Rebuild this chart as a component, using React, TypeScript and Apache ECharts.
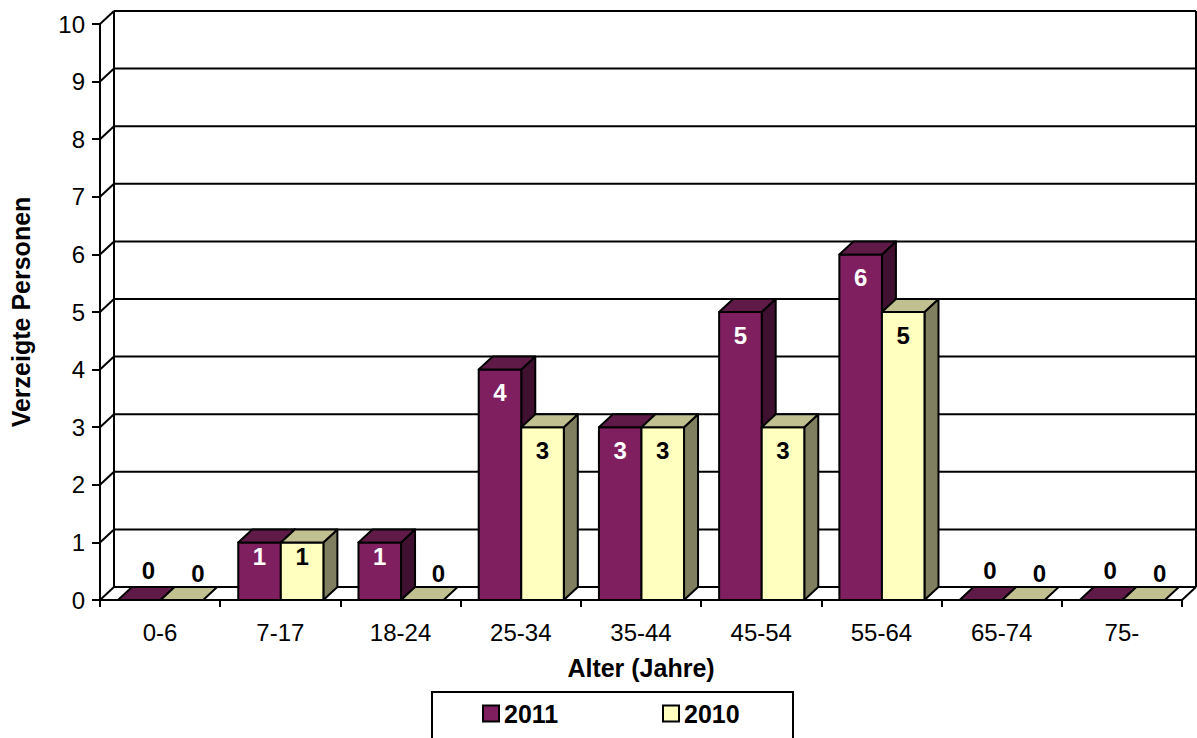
import React, { useEffect, useRef } from "react";
import * as echarts from "echarts";

const categories = ["0-6", "7-17", "18-24", "25-34", "35-44", "45-54", "55-64", "65-74", "75-"];
const values2011 = [0, 1, 1, 4, 3, 5, 6, 0, 0];
const values2010 = [0, 1, 0, 3, 3, 3, 5, 0, 0];
const yTicks = [0, 1, 2, 3, 4, 5, 6, 7, 8, 9, 10];

const FONT = "'Liberation Sans', Arial, sans-serif";
const DX = 14;
const DY = 13;

const palette = [
  { front: "#801f60", top: "#5f1a48", side: "#401030", label: "#ffffff", zeroShift: 9 },
  { front: "#ffffc0", top: "#c0c090", side: "#808060", label: "#000000", zeroShift: 16 },
];

function makeBarRender(s: number) {
  return (params: any, api: any) => {
    const i = api.value(0);
    const v = api.value(1);
    const top = api.coord([i, v]);
    const base = api.coord([i, 0]);
    const catW = api.size([1, 0])[0];
    const barW = catW * 0.354;
    const x = top[0] - catW / 2 + catW * 0.15 + s * barW;
    const yT = top[1];
    const y0 = base[1];
    const h = y0 - yT;
    const c = palette[s];
    const stroke = { stroke: "#000", lineWidth: 2, lineJoin: "round" };
    const children: any[] = [];
    if (h > 0.5) {
      children.push({
        type: "polygon",
        shape: { points: [[x + barW, yT], [x + barW + DX, yT - DY], [x + barW + DX, y0 - DY], [x + barW, y0]] },
        style: { fill: c.side, ...stroke },
      });
      children.push({
        type: "rect",
        shape: { x, y: yT, width: barW, height: h },
        style: { fill: c.front, ...stroke },
      });
    }
    children.push({
      type: "polygon",
      shape: { points: [[x, yT], [x + DX, yT - DY], [x + barW + DX, yT - DY], [x + barW, yT]] },
      style: { fill: c.top, ...stroke },
    });
    const textStyle = {
      fontFamily: FONT,
      fontWeight: "bold",
      fontSize: 24,
      align: "center",
      verticalAlign: "middle",
    };
    if (h > 0.5) {
      children.push({
        type: "text",
        style: {
          ...textStyle,
          x: x + barW / 2,
          y: yT + Math.min(23, h * 0.25),
          text: String(v),
          fill: c.label,
        },
      });
    } else {
      children.push({
        type: "text",
        style: {
          ...textStyle,
          x: x + barW / 2 + c.zeroShift,
          y: y0 - 30 + s * 3,
          text: String(v),
          fill: "#000",
        },
      });
    }
    return { type: "group", children };
  };
}

function wallRender(params: any, api: any) {
  const v = api.value(0);
  const cs = params.coordSys;
  const y = api.coord([0, v])[1];
  const left = cs.x;
  const right = cs.x + cs.width;
  const st = { stroke: "#000", lineWidth: 2 };
  const children: any[] = [
    { type: "line", shape: { x1: left + DX, y1: y - DY, x2: right + DX, y2: y - DY }, style: st },
    { type: "line", shape: { x1: left, y1: y, x2: left + DX, y2: y - DY }, style: st },
  ];
  if (params.dataIndex === 0) {
    const yTop = api.coord([0, yTicks[yTicks.length - 1]])[1];
    children.push(
      { type: "line", shape: { x1: left + DX, y1: yTop - DY, x2: left + DX, y2: y - DY }, style: st },
      { type: "line", shape: { x1: right + DX, y1: yTop - DY, x2: right + DX, y2: y - DY }, style: st },
      { type: "line", shape: { x1: right, y1: y, x2: right + DX, y2: y - DY }, style: st }
    );
  }
  return { type: "group", children };
}

const legendCommon = {
  icon: "rect",
  itemWidth: 16,
  itemHeight: 16,
  itemGap: 4,
  padding: 0,
  top: 701,
  textStyle: { fontFamily: FONT, fontWeight: "bold", fontSize: 25, color: "#000" },
  selectedMode: false,
};

export default function App() {
  const ref = useRef<HTMLDivElement>(null);
  useEffect(() => {
    const chart = echarts.init(ref.current!, null, { renderer: "svg" });
    chart.setOption({
      animation: false,
      backgroundColor: "#ffffff",
      textStyle: { fontFamily: FONT },
      grid: { left: 100, right: 15, top: 24, bottom: 138, containLabel: false },
      xAxis: {
        type: "category",
        data: categories,
        name: "Alter (Jahre)",
        nameLocation: "middle",
        nameGap: 55,
        nameTextStyle: { fontFamily: FONT, fontWeight: "bold", fontSize: 25, color: "#000" },
        axisLine: { show: true, lineStyle: { color: "#000", width: 2 } },
        axisTick: { show: true, length: 7, lineStyle: { color: "#000", width: 2 } },
        axisLabel: { fontFamily: FONT, fontSize: 24, color: "#000", margin: 20 },
        splitLine: { show: false },
      },
      yAxis: {
        type: "value",
        min: 0,
        max: 10,
        interval: 1,
        name: "Verzeigte Personen",
        nameLocation: "middle",
        nameRotate: 90,
        nameGap: 67,
        nameTextStyle: { fontFamily: FONT, fontWeight: "bold", fontSize: 25, color: "#000" },
        axisLine: { show: true, lineStyle: { color: "#000", width: 2 } },
        axisTick: { show: true, length: 8, lineStyle: { color: "#000", width: 2 } },
        axisLabel: { fontFamily: FONT, fontSize: 24, color: "#000", margin: 15 },
        splitLine: { show: false },
      },
      legend: [
        {
          ...legendCommon,
          data: [{ name: "2011", itemStyle: { color: palette[0].front, borderColor: "#000", borderWidth: 2 } }],
          left: 482,
        },
        {
          ...legendCommon,
          data: [{ name: "2010", itemStyle: { color: palette[1].front, borderColor: "#000", borderWidth: 2 } }],
          left: 662,
        },
      ],
      graphic: [
        {
          type: "rect",
          z: -1,
          shape: { x: 432, y: 692, width: 361, height: 60 },
          style: { fill: "#fff", stroke: "#000", lineWidth: 2 },
        },
      ],
      series: [
        {
          type: "custom",
          name: "wall",
          z: 1,
          silent: true,
          renderItem: wallRender,
          data: yTicks.map((t) => [t]),
          encode: { y: 0 },
        },
        {
          type: "custom",
          name: "2011",
          z: 2,
          renderItem: makeBarRender(0),
          itemStyle: { color: palette[0].front },
          data: values2011.map((v, i) => [i, v]),
          encode: { x: 0, y: 1 },
        },
        {
          type: "custom",
          name: "2010",
          z: 3,
          renderItem: makeBarRender(1),
          itemStyle: { color: palette[1].front },
          data: values2010.map((v, i) => [i, v]),
          encode: { x: 0, y: 1 },
        },
      ],
    });
    return () => chart.dispose();
  }, []);
  return <div ref={ref} style={{ position: "absolute", left: 0, top: 0, width: 1197, height: 738 }} />;
}
